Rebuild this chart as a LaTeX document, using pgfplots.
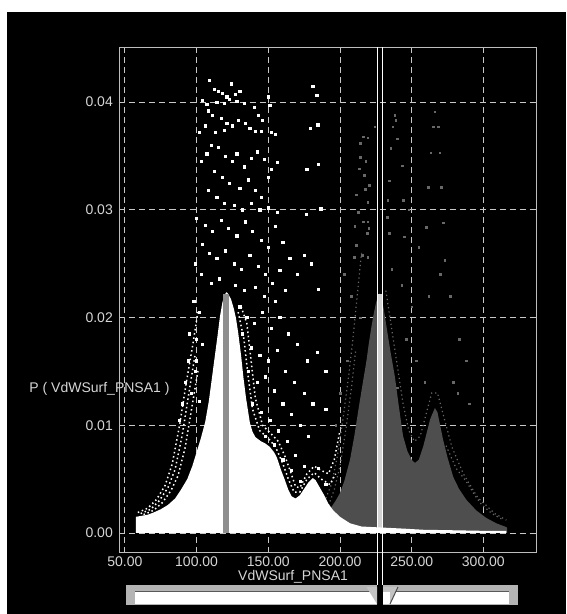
\documentclass[border=0pt]{standalone}
\usepackage{fontspec}
\setmainfont{Liberation Sans}
\usepackage{pgfplots}
\pgfplotsset{compat=1.18}
\definecolor{framegray}{HTML}{BDBDBD}
\definecolor{gridgray}{HTML}{C8C8C8}
\definecolor{labelgray}{HTML}{D6D6D6}
\definecolor{densgray}{HTML}{4E4E4E}
\definecolor{bargray}{HTML}{8E8E8E}
\definecolor{bandgray}{HTML}{D2D2D2}
\definecolor{dimdot}{HTML}{686868}
\definecolor{slidergray}{HTML}{B4B4B4}
\begin{document}
\begin{tikzpicture}[x=1pt,y=1pt]
\useasboundingbox (0,0) rectangle (566,614);
\fill[white] (0,0) rectangle (566,614);
\fill[black] (7.3,0) rectangle (566,602.3);
\begin{axis}[
  at={(119.5pt,61.3pt)}, anchor=south west,
  scale only axis, width=417.2pt, height=505.6pt,
  xmin=46.23, xmax=337.2, ymin=-0.00183, ymax=0.0451,
  axis background/.style={fill=black},
  axis line style={draw=framegray, line width=1.1pt},
  grid=major,
  major grid style={draw=gridgray, dash pattern=on 6pt off 4pt, line width=0.9pt},
  xtick={50,100,150,200,250,300},
  xticklabels={50.00,100.00,150.00,200.00,250.00,300.00},
  ytick={0,0.01,0.02,0.03,0.04},
  yticklabels={0.00,0.01,0.02,0.03,0.04},
  scaled y ticks=false, scaled x ticks=false,
  major tick length=0pt,
  /pgf/number format/assume math mode=true,
  tick label style={font=\fontsize{14}{16}\selectfont, text=labelgray},
  xticklabel style={anchor=north, inner sep=0pt, yshift=-4.3pt},
  yticklabel style={anchor=east, inner sep=0pt, xshift=-6.5pt},
  xlabel={VdWSurf\_PNSA1},
  ylabel={P ( VdWSurf\_PNSA1 )},
  every axis x label/.style={at={(axis description cs:0.416,-0.048)}, anchor=center, font=\fontsize{14}{16}\selectfont, text=labelgray},
  every axis y label/.style={at={(axis description cs:-0.048,0.324)}, anchor=center, font=\fontsize{14}{16}\selectfont, text=labelgray},
  clip=false,
  wdot/.style={white, line width=1.5pt, dash pattern=on 1.5pt off 2.8pt},
  gdot/.style={dimdot, line width=1.2pt, dash pattern=on 1.2pt off 3pt},
]
% gray density
\addplot[fill=densgray, draw=none] coordinates {
(180,0) (185,0.0008) (190,0.0016) (194,0.0024) (197,0.0030) (200,0.0037) (203,0.0048) (205,0.0058) (207,0.0068) (210,0.0090) (212.8,0.0114) (215,0.0132) (217,0.0148) (218.6,0.0161) (220,0.0175) (222,0.0192) (223.2,0.0201) (225,0.0213) (226.5,0.0220) (227.5,0.02225) (229,0.0218) (230.5,0.0208) (232.5,0.0191) (235,0.0170) (238.3,0.0145) (241,0.0118) (244,0.0090) (247,0.0076) (250,0.0068) (252.3,0.0065) (255,0.0068) (258,0.0080) (260.5,0.0093) (263,0.0106) (266.2,0.0116) (268,0.0112) (270,0.0099) (272,0.0086) (275,0.0070) (279,0.0052) (283,0.0041) (288,0.0031) (295,0.0021) (302,0.0014) (309,0.0009) (315,0.0006) (316.5,0.0005) (316.5,0)} -- cycle;
% light band at gray peak
\addplot[fill=bandgray, draw=none] coordinates {(226,0) (226,0.0222) (229.6,0.0222) (229.6,0)} -- cycle;
% gray dotted envelopes
\addplot[gdot] coordinates {(188,0.0025) (194,0.0045) (198,0.0070) (202,0.0105) (206,0.0145) (209,0.0180) (212,0.0220) (215,0.0260)};
\addplot[gdot] coordinates {(191,0.0022) (196,0.0040) (200,0.0062) (204,0.0095) (208,0.0135) (211,0.0170)};
\addplot[gdot] coordinates {(274,0.0081) (281,0.0060) (288,0.0048) (294,0.0035) (299,0.0026) (306,0.0018) (314,0.0012)};
\addplot[gdot] coordinates {(232,0.0225) (236,0.0190) (240,0.0155) (244,0.0120) (248,0.0095) (252,0.0085) (256,0.0090) (260,0.0110) (264,0.0130) (268,0.0130) (272,0.0110) (278,0.0080) (286,0.0055) (296,0.0033) (308,0.0018) (316,0.0012)};
% gray scatter
\addplot[only marks, mark=square*, mark size=0.8pt, mark options={fill=dimdot, draw=dimdot}] coordinates {
(266.2,0.0391) (265,0.0377) (268.5,0.0377) (263.4,0.0353) (269.6,0.0353) (261.5,0.0321) (270.8,0.0321) (272,0.0288) (260.3,0.0284) (273.1,0.0253)
(213.9,0.0362) (216.2,0.0368) (219.3,0.0367) (224.3,0.0377) (238.3,0.0388) (239,0.0383) (236.7,0.0377) (239.7,0.0366) (235.5,0.0357) (214.3,0.0349) (218,0.0345) (213.5,0.0338) (216.8,0.0332) (234.3,0.0327) (220.2,0.0323) (217.5,0.0319) (243.6,0.0341) (211.3,0.0314) (219.3,0.0307) (233.4,0.0309) (244.1,0.0309) (212.5,0.0298) (216.2,0.0289) (219.3,0.0289) (210.4,0.0285) (220,0.0283) (218.9,0.0278) (232.8,0.0293) (234.5,0.0278) (244.9,0.0275) (211.3,0.0267) (209.8,0.0256) (215.7,0.0258) (219.3,0.0256)
(203,0.024) (208,0.022) (214,0.020) (243,0.023) (250,0.021) (262,0.022) (270,0.024) (277,0.022) (283,0.018) (288,0.016) (246,0.018) (253,0.016) (259,0.014) (282,0.013) (290,0.012) (205,0.016) (200,0.013) (197,0.010) (240,0.0135) (236,0.0245) (255,0.0265) (248,0.0300) (279,0.0140)};
% white density
\addplot[fill=white, draw=none] coordinates {
(57.7,0) (57.7,0.0015) (62,0.0016) (66,0.0017) (70,0.0019) (75,0.0022) (80,0.0026) (85,0.0032) (89,0.0040) (93.5,0.0050) (97,0.0062) (100,0.0075) (103,0.0088) (106,0.0103) (108.5,0.0122) (110.5,0.0142) (112.5,0.0162) (114.5,0.0182) (116.3,0.0201) (118,0.0214) (119.5,0.0221) (120.8,0.02235) (122,0.0222) (124,0.0217) (126,0.0208) (127.5,0.0199) (129,0.0186) (131,0.0165) (132.6,0.0145) (134.5,0.0125) (137.2,0.0102) (139,0.0094) (141,0.0089) (145,0.0085) (148,0.0083) (151,0.0080) (154,0.0075) (156,0.0070) (159,0.0058) (161.6,0.0049) (164,0.0040) (166.3,0.0034) (169,0.0032) (172,0.0035) (175,0.0041) (178,0.0047) (181,0.0051) (183,0.0049) (186,0.0042) (189,0.0035) (192,0.0027) (195.3,0.0021) (200,0.0015) (207,0.0009) (215,0.0006) (230,0.0005) (245,0.0004) (258,0.0003) (280,0.00025) (300,0.0002) (316,0.0002) (316,0)} -- cycle;
% gray bar at white peak
\addplot[fill=bargray, draw=none] coordinates {(118.2,0) (118.2,0.0222) (122.6,0.0222) (122.6,0)} -- cycle;
% white dotted envelopes
\addplot[wdot] coordinates {(59,0.0019) (66,0.0023) (72,0.0031) (78,0.0044) (83,0.0064) (88,0.0099) (93,0.0141) (97.5,0.0176) (101,0.0206)};
\addplot[wdot] coordinates {(61,0.0018) (68,0.0022) (74,0.0030) (80,0.0042) (85,0.0059) (90,0.0091) (95,0.0133) (99,0.0166)};
\addplot[wdot] coordinates {(63,0.0017) (70,0.0021) (76,0.0028) (82,0.0039) (87,0.0053) (92,0.0079) (97,0.0119) (101,0.0151)};
\addplot[wdot] coordinates {(131,0.0210) (135,0.0195) (138,0.0160) (141,0.0125) (146,0.0100) (152,0.0092) (157,0.0085) (162,0.0070) (166,0.0055) (169,0.0043) (172,0.0042) (177,0.0055) (182,0.0062) (187,0.0058) (192,0.0055) (196,0.0068) (200,0.0095)};
\addplot[wdot] coordinates {(129,0.0205) (133,0.0180) (136,0.0145) (139,0.0115) (144,0.0095) (150,0.0088) (155,0.0080) (160,0.0065) (164,0.0050) (168,0.0038) (172,0.0038) (177,0.0050) (182,0.0056) (187,0.0050) (193,0.0045) (197,0.0055)};
% white scatter
\addplot[only marks, mark=square*, mark size=1.1pt, mark options={fill=white, draw=white}] coordinates {
(109,0.0420) (112,0.0412) (115,0.0410) (118,0.0408) (121,0.0405) (124,0.0417) (127,0.0407) (130,0.0410) (104,0.0402) (107,0.0398) (114,0.0400) (119,0.0399) (123,0.0403) (128,0.0401) (133,0.0399) (140,0.0395) (143,0.0388) (150,0.0405) (151,0.0397) (146,0.0383) (108,0.0392) (111,0.0388) (117,0.0385) (121,0.0380) (125,0.0378) (129,0.0383) (134,0.0380) (137,0.0376) (141,0.0373) (145,0.0373) (152,0.0372) (155,0.0370) (102,0.0372) (106,0.0378) (113,0.0372) (119,0.0374)
(181,0.0415) (183.7,0.0406) (179,0.0376) (184.4,0.0379) (176.8,0.0338) (184.7,0.0342) (176.3,0.0296) (186.5,0.0301)
(103,0.0345) (107,0.0352) (110,0.0360) (115,0.0358) (120,0.0350) (125,0.0345) (128,0.0352) (133,0.0340) (138,0.0348) (142,0.0354) (147,0.0347) (152,0.0338) (156,0.0344) (112,0.0336) (118,0.0330) (123,0.0325) (130,0.0320) (136,0.0328) (141,0.0318) (145,0.0312) (150,0.0330) (108,0.0318) (114,0.0312) (119,0.0306) (126,0.0304) (132,0.0300) (138,0.0306) (144,0.0300) (150,0.0302) (156,0.0298)
(100,0.0292) (106,0.0286) (111,0.0280) (117,0.0290) (122,0.0283) (128,0.0276) (134,0.0289) (139,0.0280) (145,0.0272) (150,0.0265) (155,0.0285) (160,0.0270) (165,0.0255) (104,0.0268) (109,0.0260) (114,0.0255) (120,0.0262) (126,0.0250) (131,0.0245) (137,0.0258) (143,0.0248) (148,0.0240) (153,0.0232) (158,0.0244) (99,0.0250) (103,0.0240) (110,0.0232) (116,0.0236) (127,0.0230) (133,0.0225) (141,0.0228) (147,0.0220) (155,0.0215) (162,0.0225) (170,0.0240) (175,0.0258) (180,0.0250) (185,0.0226)
(130,0.0210) (135,0.0200) (140,0.0195) (146,0.0205) (152,0.0190) (158,0.0200) (164,0.0185) (170,0.0175) (177,0.0160) (184,0.0168) (190,0.0150) (132,0.0185) (138,0.0172) (144,0.0165) (150,0.0160) (156,0.0170) (162,0.0150) (168,0.0140) (175,0.0130) (181,0.0120) (190,0.0115) (136,0.0150) (142,0.0140) (148,0.0145) (154,0.0132) (160,0.0120) (166,0.0110) (172,0.0100) (178,0.0090) (139,0.0120) (145,0.0112) (151,0.0105) (157,0.0095) (163,0.0085) (169,0.0072) (175,0.0062) (148,0.0090) (154,0.0082) (160,0.0068) (166,0.0058) (172,0.0048) (185,0.0060) (190,0.0045)
(98,0.0215) (102,0.0205) (95,0.0185) (100,0.0180) (104,0.0175) (94,0.0160) (99,0.0150) (92,0.0140) (96,0.0130) (102,0.0122) (90,0.0120) (88,0.0105) (100,0.0160)};
% selection lines
\addplot[white, line width=1.2pt] coordinates {(225.9,-0.00668) (225.9,0.0451)};
\addplot[white, line width=1.2pt] coordinates {(229.6,-0.00668) (229.6,0.0451)};
\end{axis}
% slider
\fill[slidergray] (126,9) rectangle (518,29);
\fill[white] (135,10) rectangle (509,22);
\draw[black!65, line width=1.4pt] (135,22.3) -- (509,22.3);
\fill[black] (377.3,9) rectangle (382.7,29);
\fill[slidergray!80] (366.5,27) -- (377,27) -- (377,10) -- cycle;
\fill[slidergray!80] (383,27) -- (398,27) -- (390,10) -- (383,10) -- cycle;
\fill[white] (383,10) rectangle (390,22);
\draw[black!70, line width=1pt] (398,27) -- (390,10);
\end{tikzpicture}
\end{document}
